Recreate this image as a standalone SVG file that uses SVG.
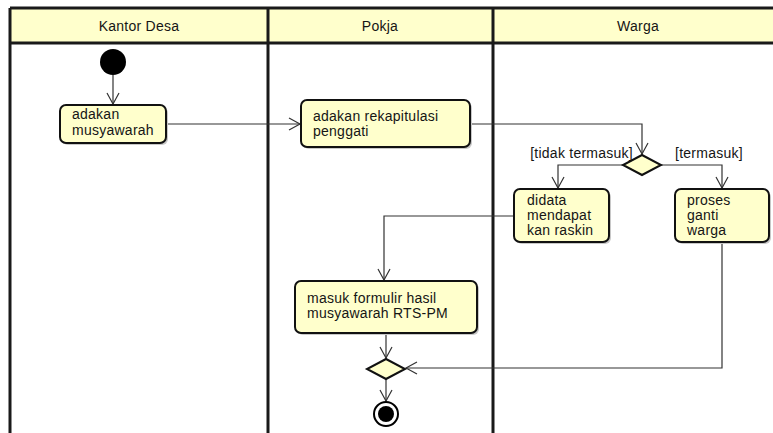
<svg xmlns="http://www.w3.org/2000/svg" width="773" height="433" viewBox="0 0 773 433">
  <style>
    text { font-family: "Liberation Sans", Arial, sans-serif; font-size: 14px; fill: #151515; letter-spacing: 0.25px; }
    .hdr { text-anchor: middle; }
    .lane { stroke: #1a1a1a; stroke-width: 3; fill: none; }
    .act { fill: #FFFFCC; stroke: #111; stroke-width: 2; }
    .shadow { fill: #c8c8c8; }
    .dia { fill: #FFFFCC; stroke: #111; stroke-width: 2; }
    .edge { fill: none; stroke: #333; stroke-width: 1.2; }
  </style>
  <defs>
    <marker id="arrow" markerUnits="userSpaceOnUse" markerWidth="14" markerHeight="14" viewBox="-12 -7 14 14" refX="0" refY="0" orient="auto">
      <path d="M-11,-6 L0,0 L-11,6" fill="none" stroke="#333" stroke-width="1.2"/>
    </marker>
  </defs>

  <rect width="773" height="433" fill="#ffffff"/>

  <!-- swimlanes -->
  <g id="lanes">
    <rect x="10" y="8" width="775" height="35" fill="#FFFFCC"/>
    <line class="lane" x1="10" y1="8" x2="785" y2="8"/>
    <line class="lane" x1="10" y1="43" x2="785" y2="43"/>
    <line class="lane" x1="10" y1="8" x2="10" y2="433"/>
    <line class="lane" x1="268" y1="8" x2="268" y2="433"/>
    <line class="lane" x1="493" y1="8" x2="493" y2="433"/>
    <text class="hdr" x="139" y="31">Kantor Desa</text>
    <text class="hdr" x="380" y="31">Pokja</text>
    <text class="hdr" x="638" y="31">Warga</text>
  </g>

  <!-- connectors -->
  <g id="connectors">
    <path class="edge" d="M113,75 L113,104" marker-end="url(#arrow)"/>
    <path class="edge" d="M166,124 L300,124" marker-end="url(#arrow)"/>
    <path class="edge" d="M470,124 L642,124 L642,154" marker-end="url(#arrow)"/>
    <path class="edge" d="M623,165 L558,165 L558,188" marker-end="url(#arrow)"/>
    <path class="edge" d="M661,165 L722,165 L722,188" marker-end="url(#arrow)"/>
    <path class="edge" d="M514,216 L384,216 L384,280" marker-end="url(#arrow)"/>
    <path class="edge" d="M386,333 L386,358" marker-end="url(#arrow)"/>
    <path class="edge" d="M722,242 L722,368 L406,368" marker-end="url(#arrow)"/>
    <path class="edge" d="M386,379 L386,401" marker-end="url(#arrow)"/>
    <text x="633" y="158" text-anchor="end">[tidak termasuk]</text>
    <text x="675" y="158">[termasuk]</text>
  </g>

  <!-- start -->
  <g id="start">
    <circle cx="113" cy="62" r="13" fill="#000"/>
  </g>

  <g id="adakan-musyawarah">
    <rect class="shadow" x="62" y="107" width="106" height="38" rx="6"/>
    <rect class="act" x="60" y="105" width="106" height="38" rx="6"/>
    <text x="72" y="119">adakan</text>
    <text x="72" y="135">musyawarah</text>
  </g>

  <g id="adakan-rekapitulasi">
    <rect class="shadow" x="303" y="102" width="169" height="47" rx="6"/>
    <rect class="act" x="301" y="100" width="169" height="47" rx="6"/>
    <text x="313" y="121">adakan rekapitulasi</text>
    <text x="313" y="136">penggati</text>
  </g>

  <g id="decision">
    <polygon class="dia" points="642,155 661,165 642,175 623,165"/>
  </g>

  <g id="didata">
    <rect class="shadow" x="516" y="191" width="95" height="53" rx="6"/>
    <rect class="act" x="514" y="189" width="95" height="53" rx="6"/>
    <text x="527" y="205">didata</text>
    <text x="527" y="220">mendapat</text>
    <text x="527" y="235">kan raskin</text>
  </g>

  <g id="proses">
    <rect class="shadow" x="677" y="191" width="94" height="53" rx="6"/>
    <rect class="act" x="675" y="189" width="94" height="53" rx="6"/>
    <text x="687" y="205">proses</text>
    <text x="687" y="220">ganti</text>
    <text x="687" y="235">warga</text>
  </g>

  <g id="masuk-formulir">
    <rect class="shadow" x="297" y="283" width="182" height="52" rx="6"/>
    <rect class="act" x="295" y="281" width="182" height="52" rx="6"/>
    <text x="307" y="303">masuk formulir hasil</text>
    <text x="307" y="318">musyawarah RTS-PM</text>
  </g>

  <g id="merge">
    <polygon class="dia" points="386,359 405,369 386,379 367,369"/>
  </g>

  <g id="end">
    <circle cx="386" cy="414" r="12" fill="#fff" stroke="#000" stroke-width="2"/>
    <circle cx="386" cy="414" r="8" fill="#000"/>
  </g>
</svg>
